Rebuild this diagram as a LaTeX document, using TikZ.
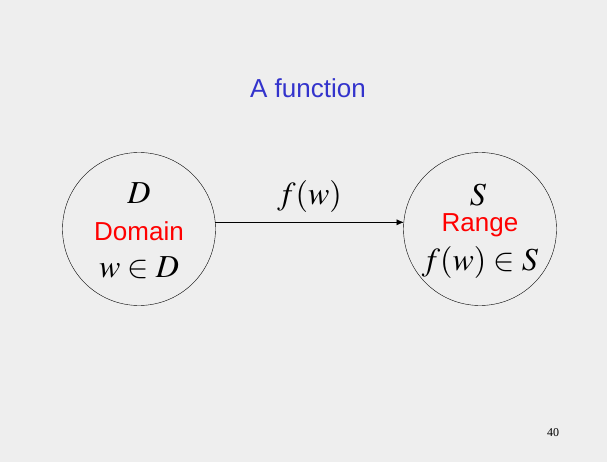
\documentclass[tikz,border=0pt]{standalone}
\usepackage{mathptmx}
\usepackage[no-math]{fontspec}
\setmainfont{Liberation Serif}
\setsansfont{Liberation Sans}
\usepackage{tikz}
\usetikzlibrary{arrows.meta,positioning,calc}
\definecolor{slidegray}{RGB}{238,238,238}
\definecolor{titleblue}{RGB}{51,51,204}
\definecolor{labelred}{RGB}{255,0,0}

\begin{document}
\begin{tikzpicture}[x=1pt, y=1pt, >={Latex[length=7pt,width=6pt]}]
\tikzstyle{setcirc}=[circle, draw=black, thin, minimum size=153pt, inner sep=0pt]
\tikzstyle{sym}=[inner sep=0pt, font=\fontsize{32}{36}\selectfont]
\tikzstyle{redlab}=[inner sep=0pt, text=labelred, font=\sffamily\fontsize{26}{30}\selectfont]
\fill[slidegray] (0,0) rectangle (607,-462);
\useasboundingbox (0,0) rectangle (607,-462);
\node[inner sep=0pt, text=titleblue, font=\sffamily\fontsize{26}{30}\selectfont] (title) at (308,-88) {A function};
\node[setcirc] (dom) at (139,-229) {};
\node[setcirc] (rng) at (480,-229) {};
% domain side
\node[sym] (dlet) at ($(dom.center)+(0,36)$) {$D$};
\node[redlab] (dname) at ($(dom.center)+(0,-2)$) {Domain};
\node[sym] (delem) at ($(dom.center)+(0,-39)$) {$w\in D$};
% range side
\node[sym] (slet) at ($(rng.center)+(-2,34)$) {$S$};
\node[redlab] (sname) at ($(rng.center)+(0,4)$) {Range};
\node[sym] (selem) at ($(rng.center)+(0,-33)$) {$f(w)\in S$};
% the map
\draw[->] (dom.5) -- node[sym, above=10pt] (fw) {$f(w)$} (rng.175);
\node[inner sep=0pt, font=\fontsize{12}{14}\selectfont] (pagenum) at (553,-433) {40};
\end{tikzpicture}
\end{document}
